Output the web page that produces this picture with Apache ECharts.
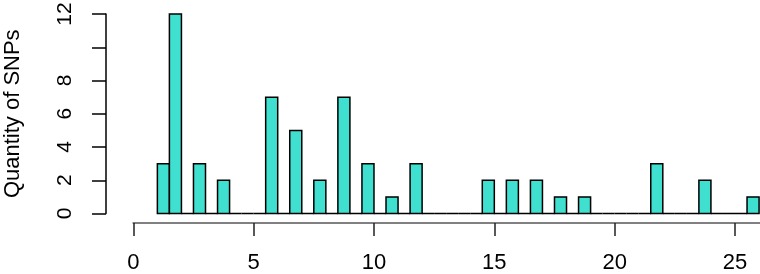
<!DOCTYPE html>
<html>
<head>
<meta charset="utf-8">
<script src="https://cdn.jsdelivr.net/npm/echarts@6/dist/echarts.min.js"></script>
<style>html,body{margin:0;padding:0;background:#fff}#c{width:760px;height:274px}</style>
</head>
<body>
<div id="c"></div>
<script>
// ---- data ----
var binWidth = 0.5;
var binLow = [1,1.5,2,2.5,3,3.5,4,4.5,5,5.5,6,6.5,7,7.5,8,8.5,9,9.5,10,10.5,11,11.5,12,12.5,13,13.5,14,14.5,15,15.5,16,16.5,17,17.5,18,18.5,19,19.5,20,20.5,21,21.5,22,22.5,23,23.5,24,24.5,25,25.5];
var counts = [3,12,0,3,0,2,0,0,0,7,0,5,0,2,0,7,0,3,0,1,0,3,0,0,0,0,0,2,0,2,0,2,0,1,0,1,0,0,0,0,0,3,0,0,0,2,0,0,0,1];
var yTicks = [0,2,4,6,8,10,12];
var yTickLabels = ['0','2','4','6','8','','12'];
var xTicks = [0,5,10,15,20,25];
var yName = 'Quantity of SNPs';

// ---- layout ----
var pxPerUnit = (735 - 133.3) / 25;
var xAxisLeftPx = 133.3, yAxisPx = 106, rightPx = 760;
var xMin0 = -(xAxisLeftPx - yAxisPx) / pxPerUnit;
var xMax = 25 + (rightPx - 735) / pxPerUnit;

var data = binLow.map(function (b, i) { return [b, b + binWidth, counts[i]]; });
var font = 'Liberation Sans, Arial, sans-serif';

var chart = echarts.init(document.getElementById('c'), null, {renderer: 'canvas'});
chart.setOption({
  animation: false,
  backgroundColor: '#fff',
  grid: [
    {left: yAxisPx, right: 0, top: 14, bottom: 274 - 213.5, containLabel: false, outerBoundsMode: 'none'},
    {left: xAxisLeftPx, right: 0, top: 222, bottom: 274 - 223, containLabel: false, outerBoundsMode: 'none'}
  ],
  xAxis: [
    {gridIndex: 0, type: 'value', min: xMin0, max: xMax, show: false},
    {gridIndex: 1, type: 'value', min: 0, max: xMax, interval: 5, position: 'bottom',
     axisLine: {show: true, onZero: false, lineStyle: {color: '#808080', width: 2}},
     axisTick: {show: true, length: 13, lineStyle: {color: '#222', width: 1.5},
       customValues: xTicks},
     axisLabel: {show: true, margin: 29, color: '#000', fontSize: 22, fontFamily: font,
       customValues: xTicks},
     splitLine: {show: false}}
  ],
  yAxis: [
    {gridIndex: 0, type: 'value', min: 0, max: 12, interval: 2,
     name: yName, nameLocation: 'middle', nameGap: 82,
     nameTextStyle: {color: '#000', fontSize: 22, fontFamily: font},
     axisLine: {show: true, onZero: false, lineStyle: {color: '#000', width: 1.5}},
     axisTick: {show: true, length: 14, lineStyle: {color: '#000', width: 1.5}},
     axisLabel: {show: true, rotate: 90, margin: 30, color: '#000', fontSize: 21, fontFamily: font,
       formatter: function (v) { var i = yTicks.indexOf(v); return i >= 0 ? yTickLabels[i] : ''; }},
     splitLine: {show: false}},
    {gridIndex: 1, type: 'value', show: false}
  ],
  series: [{
    type: 'custom',
    xAxisIndex: 0, yAxisIndex: 0,
    data: data,
    clip: false,
    renderItem: function (params, api) {
      var p0 = api.coord([api.value(0), 0]);
      var p1 = api.coord([api.value(1), api.value(2)]);
      return {
        type: 'rect',
        shape: {x: p0[0], y: p1[1], width: p1[0] - p0[0], height: p0[1] - p1[1]},
        style: {fill: '#40E0D0', stroke: '#000', lineWidth: 1.5}
      };
    }
  }]
});
</script>
</body>
</html>
